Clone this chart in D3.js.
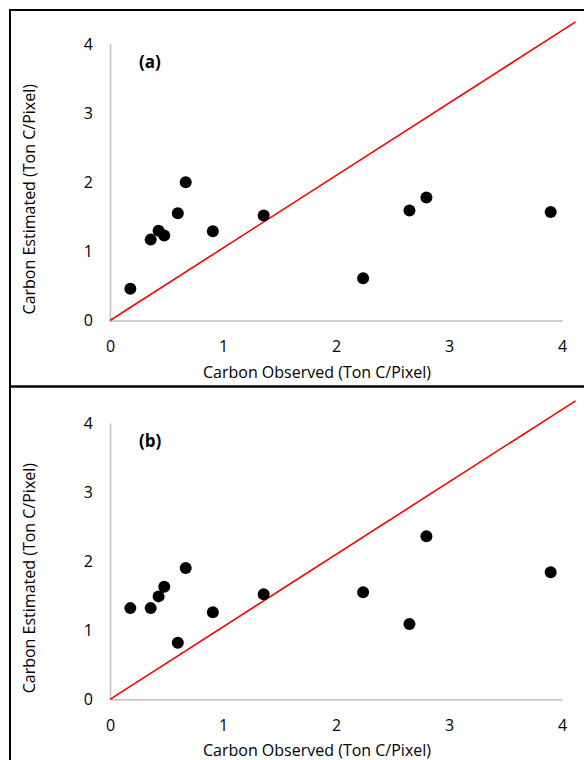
<!DOCTYPE html>
<html>
<head>
	<script src="https://d3js.org/d3.v7.min.js" charset="utf-8"></script>
	<style>
	body {margin: 0; background: #fff;}
	svg {font-family: "Open Sans", sans-serif;}
	.axis {font-family: "Open Sans", sans-serif;}
	.axis path {stroke: #bfbfbf; stroke-width: 1.5;}
	.axis text {font-size: 16px; fill: #000;}
	</style>
</head>
<body>
<script>

	// observed carbon (same for both panels)
	var observed = [0.18, 0.36, 0.43, 0.48, 0.60, 0.67, 0.91, 1.36, 2.24, 2.65, 2.80, 3.90];
	// estimated carbon, panel (a) and (b)
	var estimatedA = [0.46, 1.17, 1.30, 1.23, 1.55, 2.00, 1.29, 1.52, 0.61, 1.59, 1.78, 1.57];
	var estimatedB = [1.32, 1.32, 1.49, 1.63, 0.82, 1.90, 1.26, 1.52, 1.55, 1.09, 2.36, 1.84];
	var ticks = [0, 1, 2, 3, 4];
	// red reference line end points (data units)
	var refLine = [[0, 0], [4.12, 4.32]];

	var width = 584, height = 760;

	var svg = d3.select("body").append("svg")
		.attr("width", width)
		.attr("height", height);

	var panels = [
		{label: "(a)", est: estimatedA, top: 10, y0: 320.5, y4: 44, titleY: 378},
		{label: "(b)", est: estimatedB, top: 386.5, y0: 699.3, y4: 423, titleY: 755.5}
	];

	panels.forEach(function(p, i) {
		// frame
		svg.append("rect")
			.attr("x", 10).attr("y", p.top)
			.attr("width", 640).attr("height", i == 0 ? 376.5 : 420)
			.attr("fill", "none").attr("stroke", "#000").attr("stroke-width", 2);

		var x = d3.scaleLinear().domain([0, 4]).range([110, 562]);
		var y = d3.scaleLinear().domain([0, 4]).range([p.y0, p.y4]);

		var g = svg.append("g");

		g.append("g").attr("class", "axis")
			.attr("transform", "translate(0," + p.y0 + ")")
			.call(d3.axisBottom(x).tickValues(ticks).tickFormat(d3.format("d"))
				.tickSize(0).tickPadding(20).tickSizeOuter(0));

		g.append("g").attr("class", "axis")
			.attr("transform", "translate(110,0)")
			.call(d3.axisLeft(y).tickValues(ticks).tickFormat(d3.format("d"))
				.tickSize(0).tickPadding(17).tickSizeOuter(0));

		g.selectAll(".axis .tick line").remove();

		// 1:1 style line
		g.append("line")
			.attr("x1", x(refLine[0][0])).attr("y1", y(refLine[0][1]))
			.attr("x2", x(refLine[1][0])).attr("y2", y(refLine[1][1]))
			.attr("stroke", "#ff0000").attr("stroke-width", 1.6);

		g.selectAll("circle")
			.data(observed)
			.enter()
			.append("circle")
			.attr("cx", function(d) { return x(d); })
			.attr("cy", function(d, j) { return y(p.est[j]); })
			.attr("r", 6)
			.attr("fill", "#000");

		g.append("text")
			.attr("x", 139).attr("y", p.y4 + 24)
			.attr("font-size", "17px").attr("font-weight", "bold")
			.text(p.label);

		g.append("text")
			.attr("x", 317).attr("y", p.titleY)
			.attr("text-anchor", "middle")
			.attr("font-size", "16px")
			.text("Carbon Observed (Ton C/Pixel)");

		g.append("text")
			.attr("transform", "translate(34.5," + ((p.y0 + p.y4) / 2 + 17) + ") rotate(-90)")
			.attr("text-anchor", "middle")
			.attr("font-size", "16px")
			.text("Carbon Estimated (Ton C/Pixel)");
	});

</script>
</body>
</html>
